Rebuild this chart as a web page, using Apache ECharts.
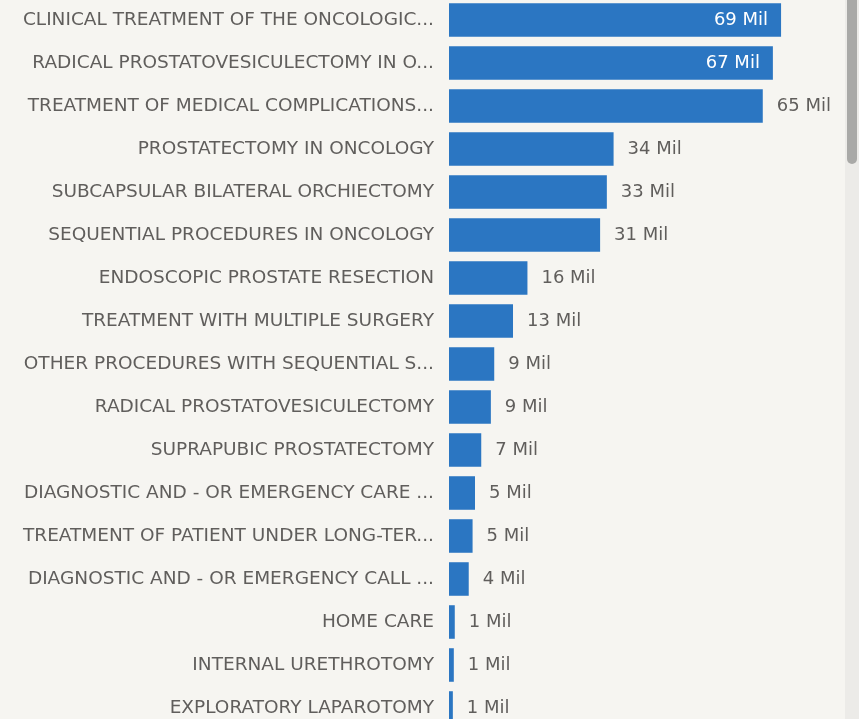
<!DOCTYPE html>
<html>
<head>
<meta charset="utf-8">
<script src="https://cdn.jsdelivr.net/npm/echarts@6/dist/echarts.min.js"></script>
<style>
  html, body { margin: 0; padding: 0; background: #f6f5f1; overflow: hidden; }
  #procChart { width: 859px; height: 719px; }
</style>
</head>
<body>
<div id="procChart"></div>
<script>
// procedure names as shown (already truncated in the source visual)
const procedures = [
  'CLINICAL TREATMENT OF THE ONCOLOGIC...',
  'RADICAL PROSTATOVESICULECTOMY IN O...',
  'TREATMENT OF MEDICAL COMPLICATIONS...',
  'PROSTATECTOMY IN ONCOLOGY',
  'SUBCAPSULAR BILATERAL ORCHIECTOMY',
  'SEQUENTIAL PROCEDURES IN ONCOLOGY',
  'ENDOSCOPIC PROSTATE RESECTION',
  'TREATMENT WITH MULTIPLE SURGERY',
  'OTHER PROCEDURES WITH SEQUENTIAL S...',
  'RADICAL PROSTATOVESICULECTOMY',
  'SUPRAPUBIC PROSTATECTOMY',
  'DIAGNOSTIC AND - OR EMERGENCY CARE ...',
  'TREATMENT OF PATIENT UNDER LONG-TER...',
  'DIAGNOSTIC AND - OR EMERGENCY CALL ...',
  'HOME CARE',
  'INTERNAL URETHROTOMY',
  'EXPLORATORY LAPAROTOMY'
];
// amounts in millions
const amounts = [69.0, 67.3, 65.2, 34.2, 32.8, 31.4, 16.3, 13.3, 9.4, 8.7, 6.7, 5.4, 4.9, 4.1, 1.2, 1.0, 0.8];
// bars wide enough to hold their label inside
const insideCount = 2;

const labelFont = 'DejaVu Sans, sans-serif';

const chart = echarts.init(document.getElementById('procChart'));

const barData = amounts.map(function (v, i) {
  if (i < insideCount) {
    return {
      value: v,
      label: { position: 'insideRight', distance: 13, color: '#ffffff' }
    };
  }
  return v;
});

const option = {
  backgroundColor: '#f6f5f1',
  animation: false,
  grid: { left: 449, right: 25, top: -1.5, height: 731, containLabel: false, outerBoundsMode: 'none' },
  xAxis: {
    type: 'value',
    min: 0,
    max: 80,
    show: false
  },
  yAxis: {
    type: 'category',
    inverse: true,
    data: procedures,
    axisLine: { show: false },
    axisTick: { show: false },
    axisLabel: {
      margin: 15,
      color: '#605e5c',
      fontSize: 18.5,
      fontFamily: labelFont
    }
  },
  series: [{
    type: 'bar',
    data: barData,
    barCategoryGap: '22%',
    itemStyle: { color: '#2b76c2' },
    label: {
      show: true,
      position: 'right',
      distance: 14,
      color: '#605e5c',
      fontSize: 18,
      fontFamily: labelFont,
      formatter: function (p) { return Math.round(p.value) + ' Mil'; }
    }
  }],
  // scrollbar of the visual container
  graphic: [
    { type: 'rect', shape: { x: 845, y: 0, width: 14, height: 719 }, style: { fill: '#ecebe8' } },
    { type: 'rect', shape: { x: 847, y: -6, width: 10, height: 170, r: 5 }, style: { fill: '#a9a9a7' } }
  ]
};

chart.setOption(option);
window.addEventListener('resize', function () {
  chart.resize();
});
</script>
</body>
</html>
